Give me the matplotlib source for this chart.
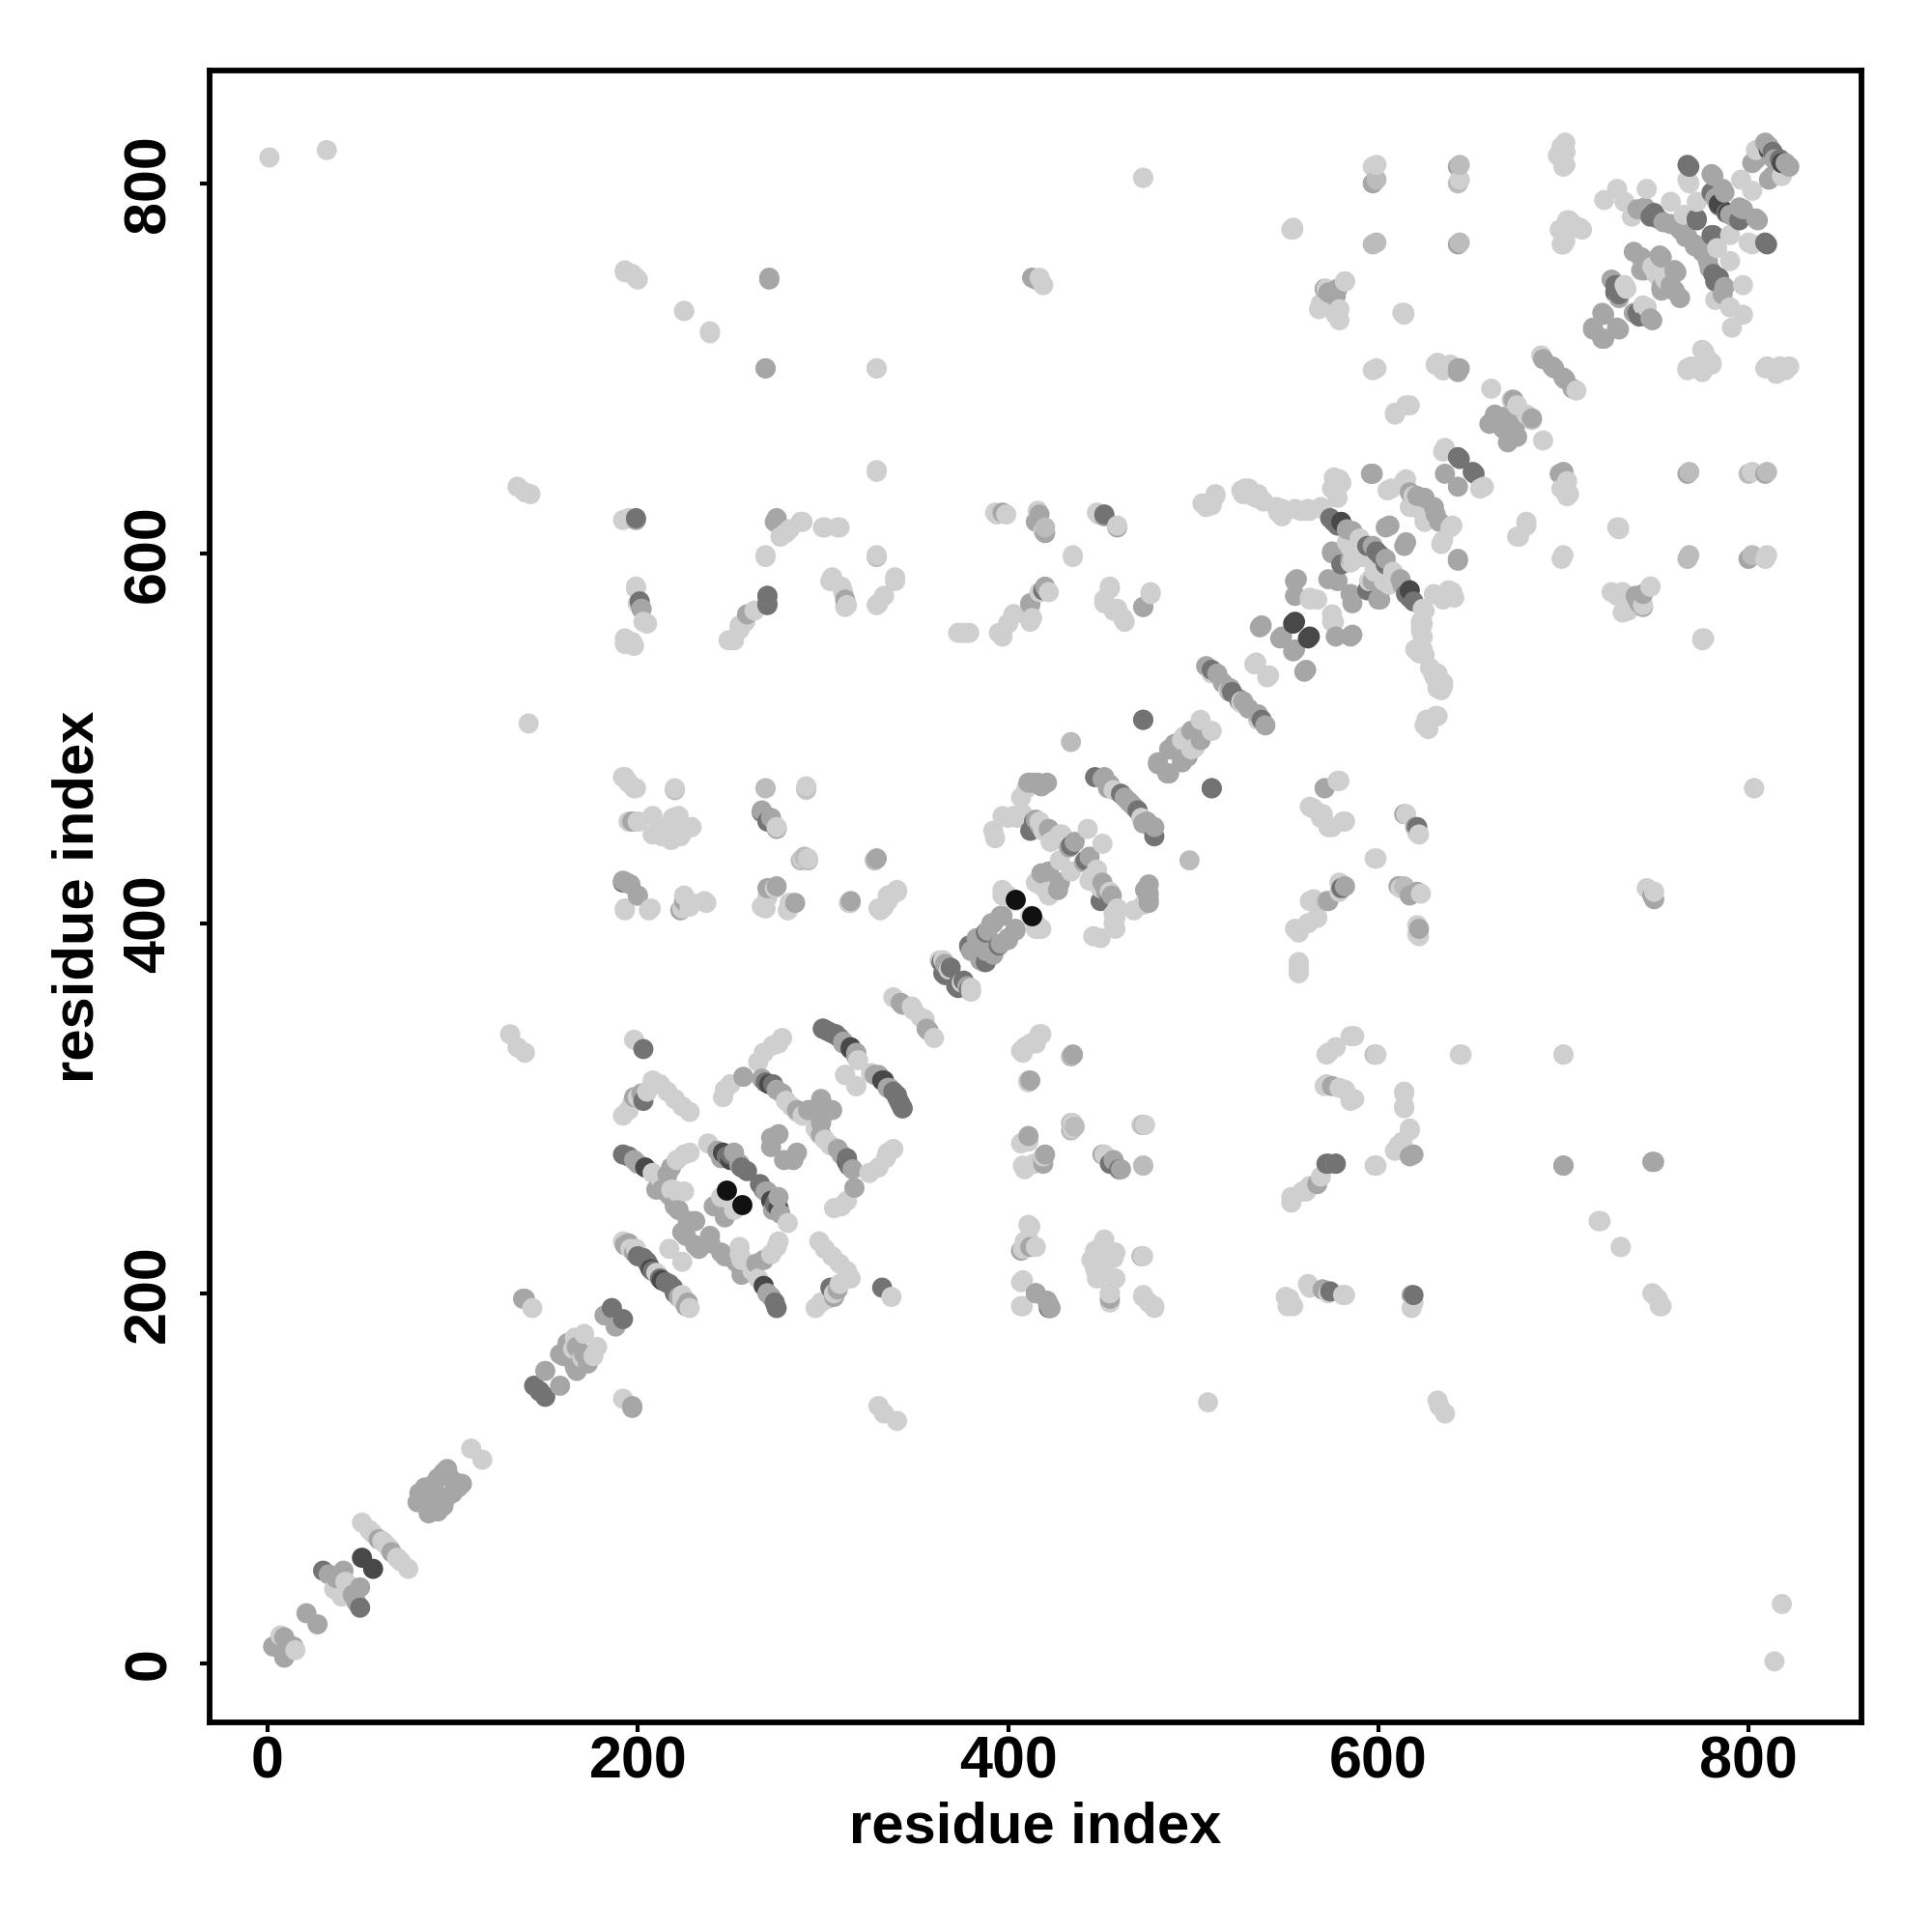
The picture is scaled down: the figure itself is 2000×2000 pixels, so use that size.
import numpy as np
import matplotlib
matplotlib.use('Agg')
import matplotlib.pyplot as plt

plt.rcParams['font.family'] = ['Liberation Sans', 'DejaVu Sans']

# contacts as (residue a, residue b), each one is drawn on both sides of the diagonal
light = [(1,814),(32,818),(7,15),(36,40),(42,44),(51,76),(55,72),(57,70),(62,66),(65,63),(110,116),(165,170),(166,176),(171,178),
 (131,340),(135,333),(139,330),(135,636),(139,633),(142,632),(141,508),(143,192),
 (192,296),(195,299),(197,303),(200,306),(205,309),(208,315),(212,313),(216,309),(220,305),(224,301),(228,298),
 (208,265),(212,262),(221,272),(225,275),(228,276),(221,255),(225,255),(217,224),(219,256),(218,256),
 (198,337),(246,306),(247,310),(250,313),(265,325),(268,330),(273,334),(278,338),(276,335),
 (280,304),(283,301),(286,298),(289,296),(319,326),(318,312),(312,318),(192,228),(196,224),(199,224),(210,211),
 (238,281),(245,252),(504,510),(495,501),(494,499),(457,472),(407,468),(410,473),(392,450),(393,446),(397,458),(403,458),(408,459),
 (400,457),(405,457),(419,450),(422,448),(425,445),(428,448),(423,444),(443,451),(417,455),(429,448),(417,421),(415,422),(428,434),
 (397,418),(400,415),(404,412),(397,415),(363,380),(368,375),(365,380),(338,360),(349,353),(348,355),
 (417,340),(412,335),(407,331),(411,314),(472,291),(411,283),(407,281),(419,274),
 (473,803),(599,810),(644,802),(554,776),(701,817),(699,820),(701,810),(701,769),(705,778),(709,776),
 (329,700),(193,752),(197,751),(200,748),(225,731),(239,719),(419,745),(570,735),(572,743),(582,747),(569,735),(579,732),(614,730),
 (599,700),(632,703),(639,702),(631,702),(635,699),(767,802),(804,818),(796,802),(722,791),(729,797),(745,797),
 (733,745),(734,743),(750,751),(743,753),(748,755),(698,775),(705,776),(702,780),(699,767),
 (775,710),(767,700),(780,703),(809,700),(817,701),(822,701),(815,697),(775,554),(800,768),
 (809,597),(729,614),(680,617),(675,609),(699,597),(699,635),(702,631),(726,579),(747,582),(732,568),(729,577),
 (688,707),(661,689),(672,683),(675,680),(615,680),(609,676),(553,775),(613,730),
 (636,657),(635,655),(533,540),(567,575),(576,563),(563,575),(590,608),(585,595),(586,596),(583,606),(588,603),(592,598),(598,590),(603,585),
 (607,635),(614,639),(619,631),(615,640),(617,625),(619,625),(605,634),
 (623,563),(623,558),(622,546),(620,548),(631,532),(632,527),(634,526),(632,512),(625,507),(627,505),(630,578),(636,578),(638,580),
 (510,626),(512,631),(528,635),(534,630),(538,628),(548,624),(555,624),(562,624),(570,624),(576,641),(579,640),(575,635),
 (192,618),(199,581),(200,573),(203,563),(193,551),(198,550),(269,598),(282,613),(289,617),(301,614),(309,614),(329,644),
 (304,585),(311,579),(330,573),(339,587),(312,571),(249,553),(255,561),
 (193,407),(206,407),(236,412),(228,409),(218,445),(220,447),(213,447),(208,448),(225,450),(220,452),(212,452),(208,458),(222,458),
 (455,200),(473,198),(479,193),(409,267),(414,270),(473,269),(474,291),(409,333),(414,336),
 (803,473),(749,417),(700,329),(645,329),(599,329),(599,269),(599,435),(720,239),(731,225),(749,199),(753,193),(619,195),
 (552,197),(554,193),(562,205),(582,199),(553,252),(559,255),(563,258),(569,263),
 (572,313),(582,310),(587,305),(572,329),(577,333),(585,339),(614,308),(614,300),(611,280),(617,288),(609,277),
 (192,479),(195,476),(199,473),(195,455),(200,455),(220,473),(219,457),(215,447),(223,447),(229,452),(275,452),(291,473),(289,435),(292,435),
 (207,408),(193,408),(225,415),(229,411),(237,411),(224,408),(269,408),(282,411),(315,411),(330,408),(335,415),(340,418),
 (375,557),(379,557),(395,557),(403,567),(412,563),(422,579),(394,621),(399,621),(419,612),(435,598),(449,621),(459,615),
 (455,581),(452,573),(459,570),(463,563),(477,578),(526,520),(526,519),(534,541),(535,510),
 (530,635),(535,632),(545,625),(561,623),(569,625),(579,477),(565,462),(569,457),(575,452),(582,455),(579,417),
 (555,397),(562,400),(567,403),(557,377),(557,373),(622,448),(623,416),(622,393),(565,413),
 (758,790),(765,783),(733,790),(737,782),(772,790)]

midlight = [(434,498),(434,328),(434,292),(434,288),(599,802),(644,810),(599,768),(644,768),(329,598),(472,220),(435,329),
 (436,290),(473,571),(572,412),(767,597),(800,643),(614,420),(611,420),(269,473),(473,291)]

mid = [(3,9),(9,14),(21,27),(33,48),(37,46),(41,50),(60,67),(81,87),(84,87),(82,92),(85,95),(90,97),(92,100),(95,103),(97,105),(98,101),(88,89),
 (150,158),(158,167),(162,173),(160,166),(167,171),(182,188),(138,197),(198,306),(202,308),
 (198,272),(200,270),(216,264),(218,268),(217,253),(222,245),(224,233),(228,239),(231,239),(226,231),(227,239),(220,248),(213,256),(210,256),(220,247),
 (257,317),(267,316),(275,310),(278,308),(299,305),(293,299),(299,299),(292,299),(286,299),(276,286),(279,272),(272,284),(311,336),(318,330),(318,328),(335,311),
 (193,226),(195,227),(198,222),(243,277),(252,276),(255,270),(241,247),(269,255),(273,245),
 (473,510),(510,473),(499,504),(487,494),(481,487),(488,494),(481,486),(490,497),(451,478),(455,475),(463,468),(466,465),(452,479),(454,473),
 (411,476),(413,476),(416,476),(418,474),(421,476),(415,456),(417,453),(436,444),(422,451),(433,441),(418,427),(422,428),
 (396,404),(397,404),(391,400),(392,400),(389,396),(379,387),(383,392),(380,385),(385,388),(366,378),(343,356),(342,357),
 (271,748),(269,700),(415,748),(575,740),(644,700),(780,805),(802,811),(809,822),(811,820),(804,813),(813,814),(786,797),(787,795),(782,792),(781,804),(783,790),
 (744,787),(740,786),(754,779),(758,778),(763,775),(766,771),(767,771),(726,748),(727,747),(730,738),(721,730),(722,729),(716,722),(716,721),
 (738,763),(742,760),(744,753),(752,761),(753,760),(742,753),(745,758),(760,753),(760,742),(753,743),
 (767,643),(809,643),(800,597),(698,643),(741,573),(739,577),(743,578),(743,571),(689,705),(694,701),(695,700),(667,668),(663,675),(660,670),(669,674),(673,683),(643,700),
 (636,643),(536,560),(555,585),(555,577),(556,586),(548,555),(547,554),(583,613),(586,612),(597,604),(575,601),(578,585),(575,600),(573,586),(606,615),(604,614),(585,597),
 (617,633),(621,631),(625,630),(597,643),(596,643),
 (199,618),(202,570),(274,617),(259,567),(139,197),(223,407),(225,412),(200,415),(194,422),(192,423),(455,197),(419,273),(451,275),(461,267),(412,315),
 (749,413),(749,271),(700,269),(570,202),(577,270),(575,312),(619,275),(196,421),(200,415),(272,457),(329,435),(270,419),(275,420),(285,411),
 (412,573),(417,621),(415,617),(452,620),(507,539),(513,535),(516,530),(520,527),(525,520),(537,561),(582,420),(614,459),(611,420),(622,397),(571,473)]

dark = [(30,50),(144,150),(147,147),(186,192),(203,304),(192,275),(195,274),(203,332),(269,314),(273,313),(300,343),(302,342),(304,341),(307,340),(309,338),
 (340,306),(343,300),(200,220),(203,219),(205,217),(206,215),(208,212),(248,274),(256,268),(259,266),(250,275),
 (447,479),(461,470),(473,510),(414,455),(412,450),(434,442),(388,395),(379,388),(364,379),(369,376),(365,373),(366,372),
 (767,810),(809,768),(772,781),(772,780),(811,818),(813,817),(780,795),(784,788),(749,784),(747,782),(751,781),(728,745),(730,740),(728,741),
 (643,652),(644,651),(574,619),(576,617),(578,615),(594,604),(599,601),(580,594),
 (270,573),(270,577),(419,580),(572,270),(574,201),(455,270),(619,199),(267,460),(192,422),(621,452),(510,537),(521,525)]

very_dark = [(51,57),(204,268),(271,313),(315,333),(332,315),(207,213),(246,276),(250,272),(555,563),(554,562),(580,617),(784,789),(811,818)]

black = [(248,256),(404,413)]

tick_vals = [0, 200, 400, 600, 800]
axis_label = 'residue index'

groups = [(light, '#cfcfcf'), (midlight, '#bcbcbc'), (mid, '#a6a6a6'), (dark, '#737373'), (very_dark, '#484848')]

x, y, c = [], [], []
for pairs, col in groups:
    for a, b in pairs:
        x += [a, b]
        y += [b, a]
        c += [col, col]
x = np.array(x)
y = np.array(y)
c = np.array(c)
# later residues end up on top
order = np.lexsort((y, x))

fig = plt.figure(figsize=(20, 20), dpi=100)
ax = fig.add_axes([0.1085, 0.1085, 0.855, 0.855])
ax.scatter(x[order], y[order], s=225, c=c[order], linewidths=0, zorder=2)
for a, b in black:
    ax.scatter([a, b], [b, a], s=225, c='#111111', linewidths=0, zorder=3)

ax.set_xlim(-31.3, 861)
ax.set_ylim(-32, 861)
ax.set_xticks(tick_vals)
ax.set_yticks(tick_vals)
ax.tick_params(length=7, width=3, labelsize=44)
ax.tick_params(axis='x', pad=3)
ax.tick_params(axis='y', pad=17)
for t in ax.get_xticklabels() + ax.get_yticklabels():
    t.set_fontweight('bold')
for t in ax.get_yticklabels():
    t.set_rotation(90)
    t.set_va('center')
for s in ax.spines.values():
    s.set_linewidth(4.2)
ax.set_xlabel(axis_label, fontsize=43, fontweight='bold', labelpad=8)
ax.set_ylabel(axis_label, fontsize=43, fontweight='bold', labelpad=13)

fig.savefig('out.png', dpi=100)
